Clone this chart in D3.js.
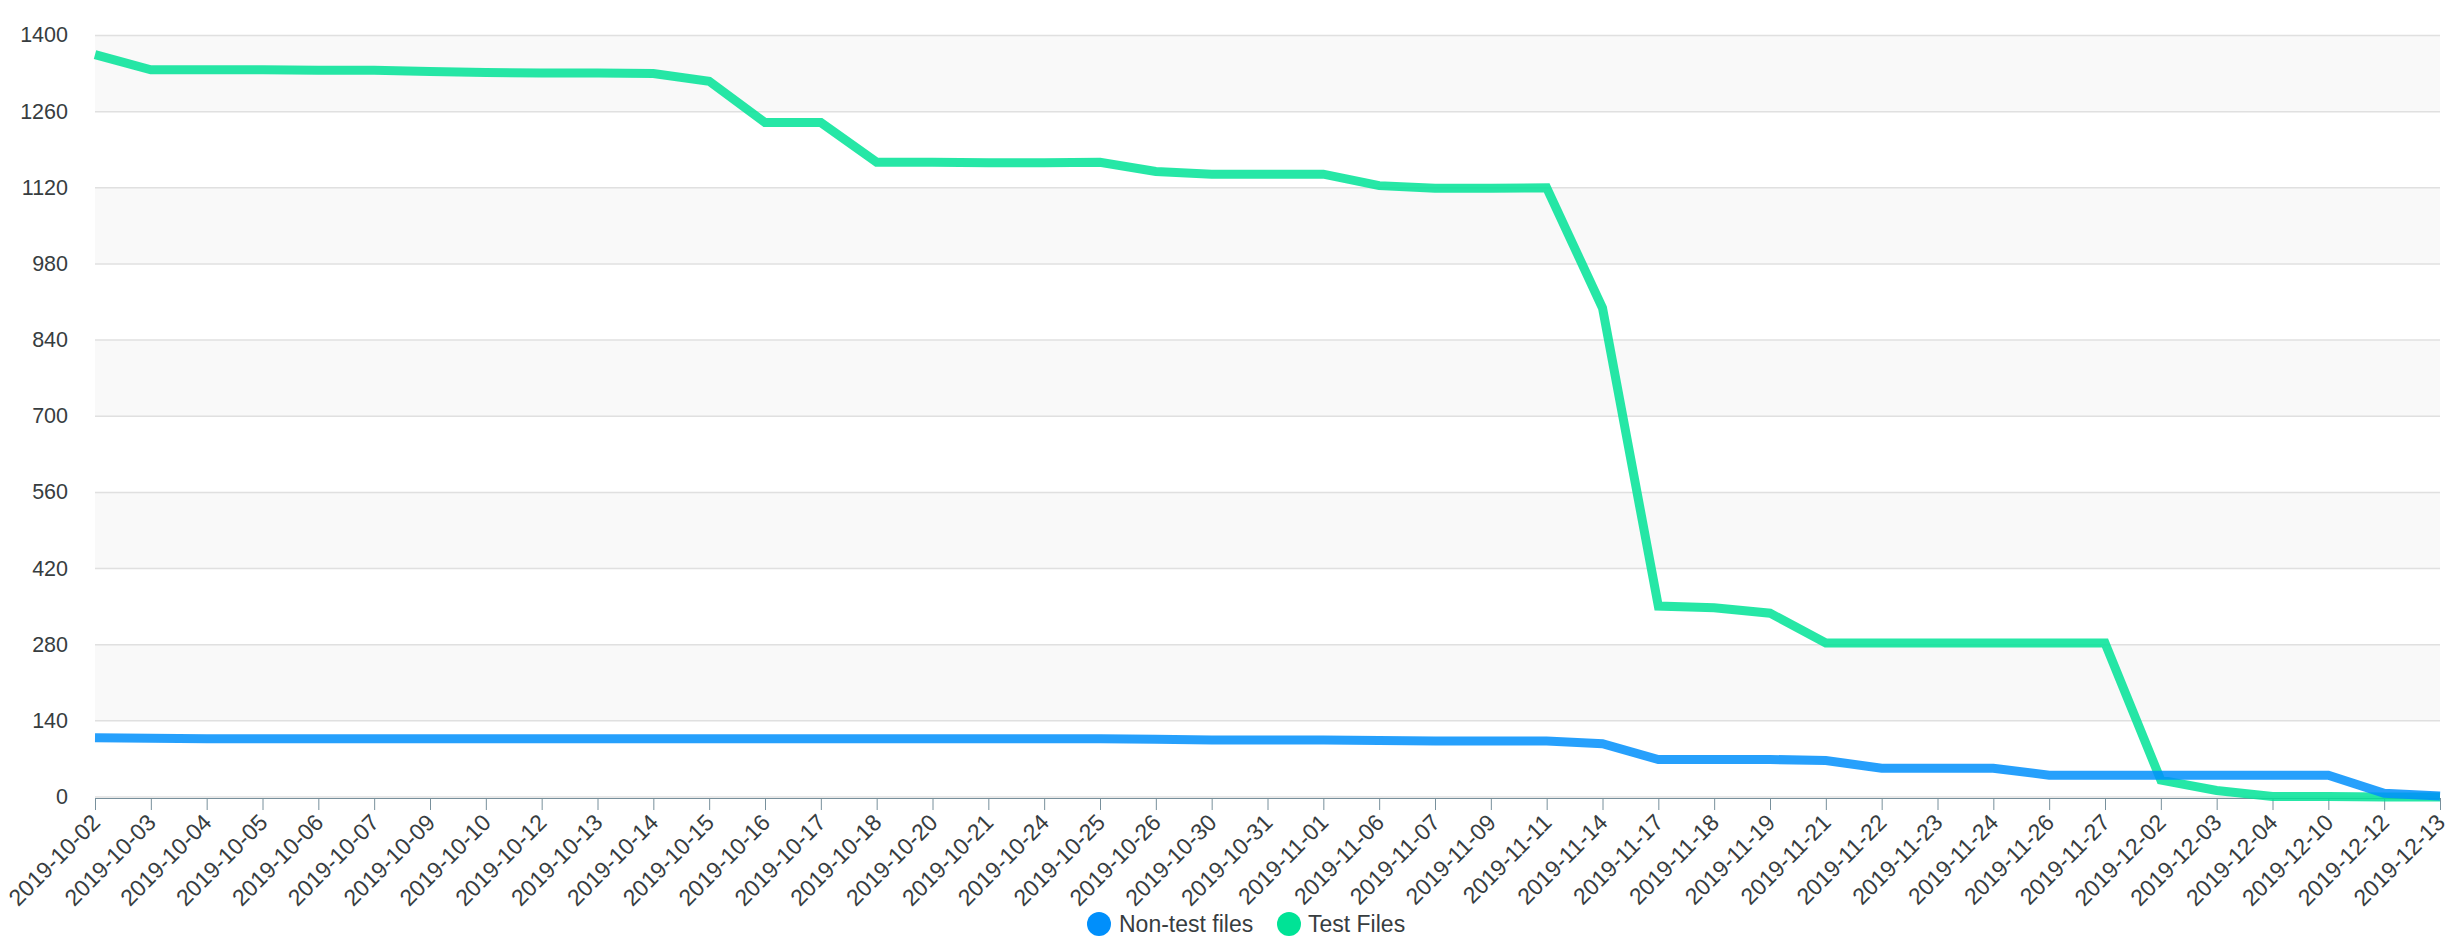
<!DOCTYPE html>
<html>
<head>
<meta charset="utf-8">
<script src="https://cdn.jsdelivr.net/npm/d3@7"></script>
<style>
  html, body { margin: 0; padding: 0; background: #ffffff; }
  svg { display: block; }
  text { font-family: Helvetica, Arial, "Liberation Sans", sans-serif; fill: #373d3f; }
</style>
</head>
<body>
<svg id="chart" width="2462" height="950"></svg>
<script>
const categories = [
  "2019-10-02","2019-10-03","2019-10-04","2019-10-05","2019-10-06","2019-10-07","2019-10-09",
  "2019-10-10","2019-10-12","2019-10-13","2019-10-14","2019-10-15","2019-10-16","2019-10-17",
  "2019-10-18","2019-10-20","2019-10-21","2019-10-24","2019-10-25","2019-10-26","2019-10-30",
  "2019-10-31","2019-11-01","2019-11-06","2019-11-07","2019-11-09","2019-11-11","2019-11-14",
  "2019-11-17","2019-11-18","2019-11-19","2019-11-21","2019-11-22","2019-11-23","2019-11-24",
  "2019-11-26","2019-11-27","2019-12-02","2019-12-03","2019-12-04","2019-12-10","2019-12-12",
  "2019-12-13"
];
const nonTestFiles = [
  109,108,107,107,107,107,107,
  107,107,107,107,107,107,107,
  107,107,107,107,107,106,105,
  105,105,104,103,103,103,98,
  69,69,69,67,53,53,53,
  40,40,40,40,40,40,7,
  2
];
const testFiles = [
  1365,1337,1337,1337,1336,1336,1334,
  1332,1331,1331,1330,1316,1240,1240,
  1167,1167,1166,1166,1167,1150,1145,
  1145,1145,1124,1119,1119,1120,899,
  351,348,338,283,283,283,283,
  283,283,31,12,1,1,0,
  0
];
const yTicks = [0,140,280,420,560,700,840,980,1120,1260,1400];
const seriesNames = ["Non-test files","Test Files"];
const seriesColors = ["#008FFB","#00E396"];

(function () {
const svg = d3.select("#chart");
const pLeft = 95, pRight = 2440, pTop = 35.5, pBottom = 797;
const FONT = 'Helvetica, Arial, "Liberation Sans", sans-serif';

const x = d3.scalePoint().domain(categories).range([pLeft, pRight]);
const y = d3.scaleLinear().domain([0, 1400]).range([pBottom, pTop]);

// stripes
const g = svg.append("g");
for (let i = 0; i < yTicks.length - 1; i++) {
  const hi = yTicks[yTicks.length - 1 - i], lo = yTicks[yTicks.length - 2 - i];
  if (i % 2 === 0) {
    g.append("rect").attr("x", pLeft).attr("width", pRight - pLeft)
      .attr("y", y(hi)).attr("height", y(lo) - y(hi))
      .attr("fill", "#f3f3f3").attr("fill-opacity", 0.5);
  }
}
// gridlines
g.selectAll("line.grid").data(yTicks).join("line")
  .attr("class","grid")
  .attr("x1", pLeft).attr("x2", pRight)
  .attr("y1", d => y(d)).attr("y2", d => y(d))
  .attr("stroke", "#e0e0e0").attr("stroke-width", 1.5);

// y axis labels
const yAxis = d3.axisLeft(y).tickValues(yTicks).tickFormat(d3.format("d")).tickSize(0).tickPadding(0);
const ya = svg.append("g").attr("transform", `translate(68,0)`).call(yAxis);
ya.select(".domain").remove();
ya.selectAll("text").attr("font-size", 21.5).attr("fill", "#373d3f")
  .style("font-family", FONT)
  .attr("dy", "0.3em");

// x axis
const xAxis = d3.axisBottom(x).tickSize(12).tickPadding(0);
const xa = svg.append("g").attr("transform", `translate(0,${pBottom + 1})`).call(xAxis);
xa.select(".domain").attr("stroke", "#78909c").attr("d", `M${pLeft},0.5H${pRight}`);
xa.selectAll(".tick line").attr("stroke", "#78909c").attr("stroke-width", 1);
xa.selectAll(".tick text")
  .attr("font-size", 23).attr("fill", "#373d3f")
  .style("font-family", FONT)
  .attr("text-anchor", "end")
  .attr("y", 0).attr("dy", 0)
  .attr("transform", "translate(6,26) rotate(-45)");

// lines (test files under, non-test on top)
const line = d3.line().x((d, i) => x(categories[i])).y(d => y(d));
const plot = svg.append("g");
plot.append("path").datum(testFiles).attr("d", line)
  .attr("fill", "none").attr("stroke", seriesColors[1]).attr("stroke-opacity", 0.85)
  .attr("stroke-width", 9).attr("stroke-linejoin", "miter").attr("stroke-linecap", "butt");
plot.append("path").datum(nonTestFiles).attr("d", line)
  .attr("fill", "none").attr("stroke", seriesColors[0]).attr("stroke-opacity", 0.85)
  .attr("stroke-width", 9).attr("stroke-linejoin", "miter").attr("stroke-linecap", "butt");

// legend
const legend = svg.append("g");
const legendItems = [
  {name: seriesNames[0], color: seriesColors[0], cx: 1099, tx: 1119},
  {name: seriesNames[1], color: seriesColors[1], cx: 1289, tx: 1308}
];
legendItems.forEach(it => {
  legend.append("circle").attr("cx", it.cx).attr("cy", 924).attr("r", 12).attr("fill", it.color);
  legend.append("text").attr("x", it.tx).attr("y", 932).attr("font-size", 23)
    .style("font-family", FONT).text(it.name);
});
})();
</script>
</body>
</html>
